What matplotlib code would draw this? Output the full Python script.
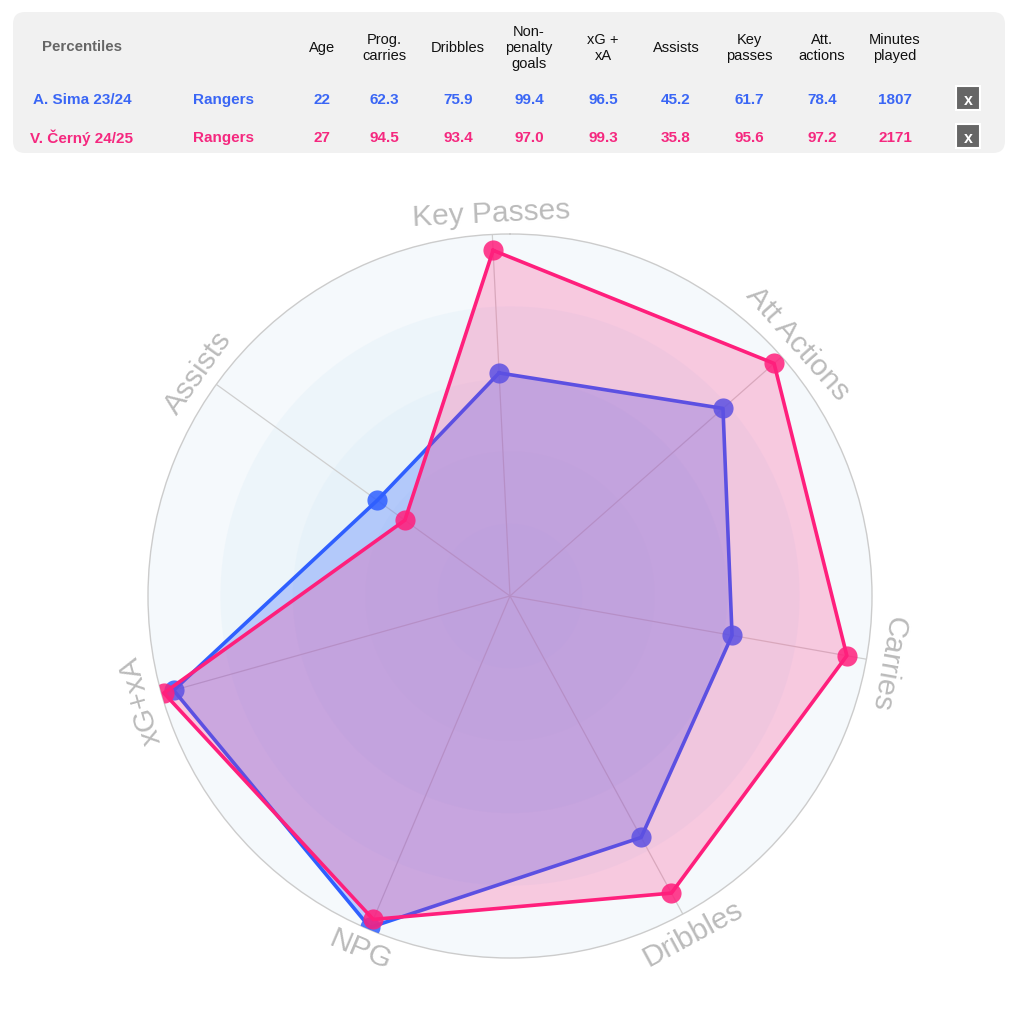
import numpy as np
import matplotlib
matplotlib.use('Agg')
import matplotlib.pyplot as plt
from matplotlib.patches import FancyBboxPatch, Rectangle

plt.rcParams['font.family'] = ['Liberation Sans', 'DejaVu Sans']

# ---- data ----
categories = ['Key Passes', 'Att Actions', 'Carries', 'Dribbles', 'NPG', 'xG+xA', 'Assists']
sima_vals  = [61.7, 78.4, 62.3, 75.9, 99.4, 96.5, 45.2]
cerny_vals = [95.6, 97.2, 94.5, 93.4, 97.0, 99.3, 35.8]

table_headers = ['Age', 'Prog.\ncarries', 'Dribbles', 'Non-\npenalty\ngoals', 'xG +\nxA',
                 'Assists', 'Key\npasses', 'Att.\nactions', 'Minutes\nplayed']
player_names = ['A. Sima 23/24', 'V. Černý 24/25']
player_teams = ['Rangers', 'Rangers']
sima_row  = ['22', '62.3', '75.9', '99.4', '96.5', '45.2', '61.7', '78.4', '1807']
cerny_row = ['27', '94.5', '93.4', '97.0', '99.3', '35.8', '95.6', '97.2', '2171']

BLUE = '#2f5fff'
PINK = '#ff1f7c'
BLUE_TXT = '#3a66f5'
PINK_TXT = '#f5287f'

W, H = 1024, 1012
fig = plt.figure(figsize=(W / 100, H / 100), dpi=100)

# ---- table (pixel coordinates) ----
bg = fig.add_axes([0, 0, 1, 1])
bg.set_xlim(0, W)
bg.set_ylim(H, 0)
bg.axis('off')
bg.add_patch(FancyBboxPatch((13, 13), 992, 141, boxstyle='round,pad=0,rounding_size=12',
                            facecolor='#f1f1f1', edgecolor='none'))

col_x = [322, 384, 458, 529, 603, 676, 749, 822, 895]
bg.text(82, 47, 'Percentiles', ha='center', va='center', fontsize=10.8,
        fontweight='bold', color='#666666')
for x, h in zip(col_x, table_headers):
    bg.text(x, 48, h, ha='center', va='center', fontsize=10.5, color='#111111',
            linespacing=1.2)

rows = [sima_row, cerny_row]
row_colors = [BLUE_TXT, PINK_TXT]
row_y = [99, 137]
for name, team, vals, c, y in zip(player_names, player_teams, rows, row_colors, row_y):
    bg.text(82, y + 1, name, ha='center', va='center', fontsize=11, fontweight='bold', color=c)
    bg.text(224, y + 1, team, ha='center', va='center', fontsize=11, fontweight='bold', color=c)
    for x, v in zip(col_x, vals):
        bg.text(x, y + 1, v, ha='center', va='center', fontsize=11, fontweight='bold', color=c)
    bg.add_patch(Rectangle((956, y - 12), 24, 24, facecolor='#666666',
                           edgecolor='white', linewidth=1.5))
    bg.text(968, y + 1, 'x', ha='center', va='center', fontsize=11.5, fontweight='bold',
            color='white')

# ---- radar ----
cx, cy, R = 510, 597, 362
ax = fig.add_axes([(cx - R) / W, 1 - (cy + R) / H, 2 * R / W, 2 * R / H], projection='polar')
ax.set_theta_zero_location('N')
ax.set_theta_direction(-1)
ax.patch.set_alpha(0)

n = len(categories)
start = np.deg2rad(-2.8)
angles = (start + np.arange(n) * 2 * np.pi / n) % (2 * np.pi)

# concentric tinted bands
t = np.linspace(0, 2 * np.pi, 361)
for r in [100, 80, 60, 40, 20]:
    ax.fill(t, np.full_like(t, r), color='#d9ebf7', alpha=0.26, linewidth=0, zorder=0)

def close(a):
    return list(a) + [a[0]]

ang_c = close(angles)

ax.fill(ang_c, close(sima_vals), color=BLUE, alpha=0.28, linewidth=0, zorder=2)
ax.plot(ang_c, close(sima_vals), color=BLUE, linewidth=2.6, solid_joinstyle='round', zorder=3)
ax.plot(angles, sima_vals, 'o', color=BLUE, markersize=14.5, alpha=0.85,
        markeredgewidth=0, zorder=4)

ax.fill(ang_c, close(cerny_vals), color=PINK, alpha=0.22, linewidth=0, zorder=5)
ax.plot(ang_c, close(cerny_vals), color=PINK, linewidth=2.6, solid_joinstyle='round', zorder=6)
ax.plot(angles, cerny_vals, 'o', color=PINK, markersize=14.5, alpha=0.85,
        markeredgewidth=0, zorder=7)

ax.set_xlim(0, 2 * np.pi)
ax.set_ylim(0, 100)
ax.set_xticks(angles)
ax.set_xticklabels([])
ax.set_yticks([])
ax.xaxis.grid(True, color='#cfcfcf', linewidth=0.9)
ax.spines['polar'].set_color('#cccccc')
ax.spines['polar'].set_linewidth(1.0)
ax.set_axisbelow(True)

# tangential category labels
for a, lab in zip(angles, categories):
    deg = np.rad2deg(a) % 360
    rot = -deg
    if 120 < deg < 240:
        rot += 180
    ax.text(a, 106, lab, rotation=rot, rotation_mode='anchor', ha='center', va='center',
            fontsize=21.5, color='#bbbbbb', zorder=8)

fig.savefig('out.png', dpi=100)
